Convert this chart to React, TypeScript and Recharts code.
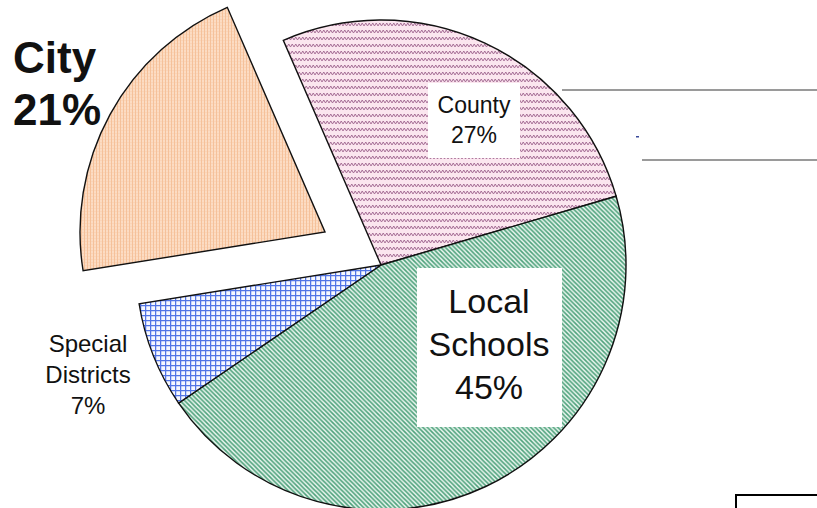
import { Cell, Pie, PieChart } from "recharts";

// shares of the tax dollar, clockwise from the top-left edge of County
const categories = ["County", "Local Schools", "Special Districts", "City"];
const shares = [27, 45, 7, 21];
const exploded = "City";

const data = categories.map((name, i) => ({ name, value: shares[i] }));

const patternFor: Record<string, string> = {
  County: "url(#pat-county)",
  "Local Schools": "url(#pat-schools)",
  "Special Districts": "url(#pat-special)",
  City: "url(#pat-city)",
};

type Layout = {
  x: number;
  y: number;
  gap: number;
  size: number;
  anchor: "start" | "middle";
  bold?: boolean;
  box?: { x: number; y: number; w: number; h: number };
};

// where each label sits on the page
const labelLayout: Record<string, Layout> = {
  County: { x: 474, y: 113, gap: 30, size: 23, anchor: "middle", box: { x: 428, y: 83, w: 92, h: 75 } },
  "Local Schools": { x: 489, y: 313, gap: 43, size: 34, anchor: "middle", box: { x: 417, y: 268, w: 145, h: 159 } },
  "Special Districts": { x: 88, y: 352, gap: 31, size: 24, anchor: "middle" },
  City: { x: 13, y: 73, gap: 52, size: 44, anchor: "start", bold: true },
};

const FONT = "'Liberation Sans', Arial, Helvetica, sans-serif";

const START = 113.5;
const CX = 381;
const CY = 265;
const R = 245;
// City pulled out along its mid-angle
const POP_DX = -56;
const POP_DY = -33;

const renderLabel = (props: any, onExploded: boolean) => {
  const name: string = props.name;
  const l = labelLayout[name];
  if (!l || (name === exploded) !== onExploded) return <g />;
  const lines = [...name.split(" "), `${props.value}%`];
  return (
    <g>
      {l.box && <rect x={l.box.x} y={l.box.y} width={l.box.w} height={l.box.h} fill="#fff" />}
      <text
        textAnchor={l.anchor}
        fontFamily={FONT}
        fontSize={l.size}
        fontWeight={l.bold ? 700 : 400}
        fill="#111"
      >
        {lines.map((t, i) => (
          <tspan key={t} x={l.x} y={l.y + i * l.gap}>
            {t}
          </tspan>
        ))}
      </text>
    </g>
  );
};

const Patterns = () => (
  <svg width={0} height={0} style={{ position: "absolute" }}>
    <defs>
      <pattern id="pat-county" patternUnits="userSpaceOnUse" width={7} height={7}>
        <rect width={7} height={7} fill="#fbe6ef" />
        <path d="M0 5 L1.75 2 L3.5 5 L5.25 2 L7 5" fill="none" stroke="#a56d95" strokeWidth={1} />
      </pattern>
      <pattern id="pat-city" patternUnits="userSpaceOnUse" width={3} height={3}>
        <rect width={3} height={3} fill="#fcdcc3" />
        <rect x={0} y={0} width={1} height={3} fill="#f5c19a" />
        <rect x={1.5} y={1} width={1} height={1} fill="#f8cdab" />
      </pattern>
      <pattern id="pat-schools" patternUnits="userSpaceOnUse" width={4.5} height={4.5}>
        <rect width={4.5} height={4.5} fill="#e9f6ef" />
        <path d="M-1 -1 L5.5 5.5 M-1 3.5 L1 5.5 M3.5 -1 L5.5 1" stroke="#4fa27c" strokeWidth={1.6} />
      </pattern>
      <pattern id="pat-special" patternUnits="userSpaceOnUse" width={5} height={5}>
        <rect width={5} height={5} fill="#f6f8ff" />
        <path d="M0 0.6 H5 M0.6 0 V5" stroke="#5275e6" strokeWidth={1.3} />
      </pattern>
    </defs>
  </svg>
);

export default function App() {
  return (
    <div style={{ position: "absolute", left: 0, top: 0, width: 817, height: 508, background: "#fff", overflow: "hidden" }}>
      <Patterns />
      <PieChart width={817} height={508} margin={{ top: 0, right: 0, bottom: 0, left: 0 }}>
        <Pie
          data={data}
          dataKey="value"
          nameKey="name"
          cx={CX}
          cy={CY}
          outerRadius={R}
          startAngle={START}
          endAngle={START - 360}
          labelLine={false}
          label={(p: any) => renderLabel(p, false)}
          isAnimationActive={false}
        >
          {data.map((d) => (
            <Cell
              key={d.name}
              fill={d.name === exploded ? "none" : patternFor[d.name]}
              stroke={d.name === exploded ? "none" : "#111"}
              strokeWidth={1.4}
            />
          ))}
        </Pie>
        <Pie
          data={data}
          dataKey="value"
          nameKey="name"
          cx={CX + POP_DX}
          cy={CY + POP_DY}
          outerRadius={R}
          startAngle={START}
          endAngle={START - 360}
          labelLine={false}
          label={(p: any) => renderLabel(p, true)}
          isAnimationActive={false}
        >
          {data.map((d) => (
            <Cell
              key={d.name}
              fill={d.name === exploded ? patternFor[d.name] : "none"}
              stroke={d.name === exploded ? "#111" : "none"}
              strokeWidth={1.4}
            />
          ))}
        </Pie>
      </PieChart>
      <svg width={817} height={508} style={{ position: "absolute", left: 0, top: 0, pointerEvents: "none" }}>
        <line x1={562} y1={90} x2={817} y2={90} stroke="#9a9a9a" strokeWidth={2} />
        <line x1={642} y1={160} x2={817} y2={160} stroke="#9a9a9a" strokeWidth={2} />
        <rect x={636} y={136} width={3} height={1.5} fill="#3a4a9a" />
        <rect x={736} y={495} width={90} height={30} fill="#fff" stroke="#000" strokeWidth={2} />
      </svg>
    </div>
  );
}
